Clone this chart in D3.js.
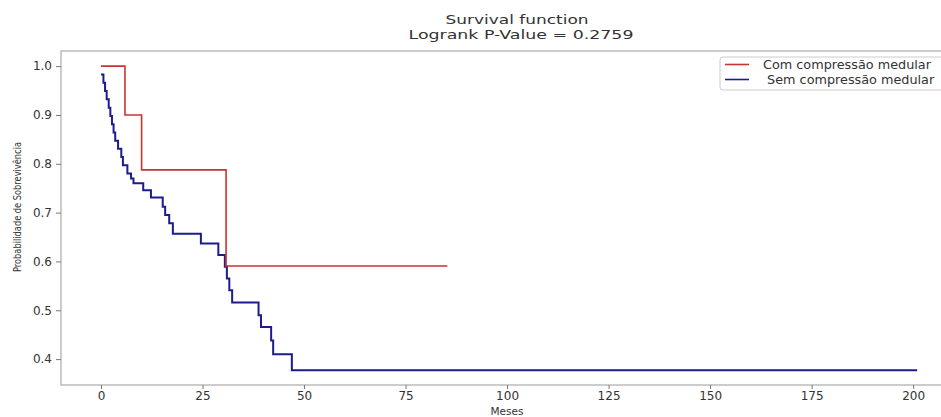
<!DOCTYPE html>
<html>
<head>
<meta charset="utf-8">
<script src="https://cdn.jsdelivr.net/npm/d3@7"></script>
<style>
  body { margin: 0; background: #fff; }
  svg text { font-family: "DejaVu Sans", sans-serif; fill: #333; }
</style>
</head>
<body>
<div id="viz-container"></div>
<script>
// Kaplan-Meier step points
const comTime = [0, 5.9, 10.0, 30.8];
const comSurv = [1.0, 0.9, 0.7875, 0.5906];
const comEnd = 85.3;

const semTime = [0, 0.6, 1.0, 1.4, 1.9, 2.3, 2.7, 3.1, 3.5, 4.2, 5.0, 5.4, 6.5, 7.4, 8.0,
  10.4, 12.3, 15.2, 15.8, 16.8, 17.7, 24.6, 28.9, 30.5, 31.0, 31.6, 32.3,
  38.8, 39.4, 41.9, 42.4, 47.0];
const semSurv = [0.983, 0.966, 0.949, 0.932, 0.915, 0.898, 0.881, 0.864, 0.847, 0.831, 0.814, 0.797, 0.780, 0.770, 0.760,
  0.746, 0.731, 0.712, 0.695, 0.678, 0.657, 0.637, 0.613, 0.589, 0.565, 0.541, 0.516,
  0.490, 0.466, 0.438, 0.410, 0.377];
const semEnd = 201;

const xTicks = [0, 25, 50, 75, 100, 125, 150, 175, 200];
const yTicks = [0.4, 0.5, 0.6, 0.7, 0.8, 0.9, 1.0];
const seriesNames = ["Com compressão medular", " Sem compressão medular"];
const seriesColors = ["#c8352f", "#1c1c8c"];

const svg = d3.select("#viz-container")
  .append("svg")
  .attr("width", 941)
  .attr("height", 417);

// axes box (right edge falls outside the window, like the reference)
const box = { left: 61, right: 972, top: 51, bottom: 385 };

const x = d3.scaleLinear().domain([-9.85, 214.5]).range([box.left, box.right]);
const y = d3.scaleLinear().domain([0.347, 1.031]).range([box.bottom, box.top]);

// frame
svg.append("rect")
  .attr("x", box.left).attr("y", box.top)
  .attr("width", box.right - box.left).attr("height", box.bottom - box.top)
  .attr("fill", "none").attr("stroke", "#999").attr("stroke-width", 1);

// axes
const xAxis = svg.append("g")
  .attr("transform", `translate(0,${box.bottom})`)
  .call(d3.axisBottom(x).tickValues(xTicks).tickSize(4).tickPadding(2).tickFormat(d3.format("d")));
const yAxis = svg.append("g")
  .attr("transform", `translate(${box.left},0)`)
  .call(d3.axisLeft(y).tickValues(yTicks).tickSize(5).tickPadding(4).tickFormat(d3.format(".1f")));
[xAxis, yAxis].forEach(g => {
  g.select(".domain").remove();
  g.selectAll(".tick line").attr("stroke", "#777");
  g.selectAll(".tick text").attr("font-size", "12px").attr("fill", "#333")
    .style("font-family", "DejaVu Sans");
});

// step curves
const line = d3.line()
  .x(d => x(d[0]))
  .y(d => y(d[1]))
  .curve(d3.curveStepAfter);

const semPts = semTime.map((t, i) => [t, semSurv[i]]);
semPts.push([semEnd, semSurv[semSurv.length - 1]]);
const comPts = comTime.map((t, i) => [t, comSurv[i]]);
comPts.push([comEnd, comSurv[comSurv.length - 1]]);

svg.append("path")
  .datum(semPts)
  .attr("d", line)
  .attr("fill", "none")
  .attr("stroke", seriesColors[1])
  .attr("stroke-width", 2);

svg.append("path")
  .datum(comPts)
  .attr("d", line)
  .attr("fill", "none")
  .attr("stroke", seriesColors[0])
  .attr("stroke-width", 1.6);

// title (the reference is stretched sideways)
svg.append("text")
  .attr("x", 517).attr("y", 24)
  .attr("text-anchor", "middle")
  .attr("font-size", "12.5px")
  .attr("textLength", 143)
  .attr("lengthAdjust", "spacingAndGlyphs")
  .text("Survival function");
svg.append("text")
  .attr("x", 521).attr("y", 39)
  .attr("text-anchor", "middle")
  .attr("font-size", "12.5px")
  .attr("textLength", 225)
  .attr("lengthAdjust", "spacingAndGlyphs")
  .text("Logrank P-Value = 0.2759");

// axis labels
svg.append("text")
  .attr("x", 507).attr("y", 415)
  .attr("text-anchor", "middle")
  .attr("font-size", "10.5px")
  .text("Meses");
svg.append("text")
  .attr("transform", `translate(21,207) rotate(-90)`)
  .attr("text-anchor", "middle")
  .attr("font-size", "11px")
  .attr("textLength", 130)
  .attr("lengthAdjust", "spacingAndGlyphs")
  .text("Probabilidade de Sobrevivência");

// legend
const legend = svg.append("g");
legend.append("rect")
  .attr("x", 720).attr("y", 57)
  .attr("width", 240).attr("height", 33)
  .attr("rx", 3)
  .attr("fill", "#fff").attr("stroke", "#ccc");
seriesNames.forEach((name, i) => {
  const ly = 64.5 + i * 15;
  legend.append("line")
    .attr("x1", 725).attr("x2", 749)
    .attr("y1", ly).attr("y2", ly)
    .attr("stroke", seriesColors[i])
    .attr("stroke-width", 1.6);
  legend.append("text")
    .attr("x", 763).attr("y", ly + 4.5)
    .attr("font-size", "12.8px")
    .style("white-space", "pre")
    .attr("xml:space", "preserve")
    .text(name);
});
</script>
</body>
</html>
